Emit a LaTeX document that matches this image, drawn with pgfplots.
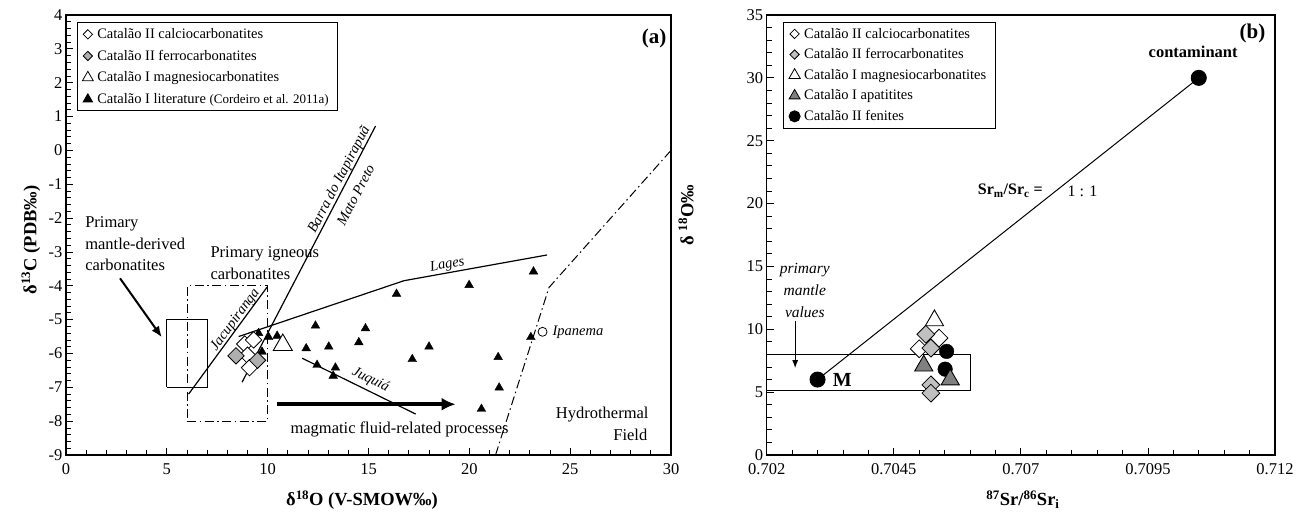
\documentclass[border=0pt]{standalone}
\usepackage{pgfplots}
\pgfplotsset{compat=1.18}
\usepackage{fontspec}
\setmainfont{Liberation Serif}
\usetikzlibrary{arrows.meta}
\definecolor{ltgray}{RGB}{192,192,192}
\definecolor{agray}{RGB}{175,175,175}
\definecolor{dkgray}{RGB}{128,128,128}
\newcommand{\fs}[1]{\fontsize{#1}{#1}\selectfont}
\tikzset{dashdot/.style={dash pattern=on 9pt off 3.5pt on 1.5pt off 3.5pt}}
\pgfplotsset{
  myaxis/.style={
    scale only axis,
    axis line style={line width=1.1pt},
    tick align=inside, tick pos=left,
    major tick length=7pt, minor tick length=5pt,
    every tick/.style={black, line width=0.8pt},
    tick label style={font=\fs{16.5}},
    /pgf/number format/assume math mode=true,
    xticklabel style={yshift=-5pt},
    legend cell align=left,
  }
}
\begin{document}
\begin{tikzpicture}
\path[use as bounding box] (0pt,0pt) rectangle (1306pt,-520pt);

% ---------------- panel (a) ----------------
\begin{axis}[myaxis, at={(66pt,-455pt)}, anchor=south west,
  width=605pt, height=440pt,
  xmin=0, xmax=30, ymin=-9, ymax=4,
  xtick={0,5,...,30}, minor x tick num=4,
  ytick={-9,-8,...,4}, minor y tick num=4,
  legend style={at={(0.018,0.984)}, anchor=north west, draw=black, line width=1pt,
    font=\fs{14.5}, row sep=6pt, inner xsep=5pt, inner ysep=4pt,
    nodes={inner xsep=4pt}}]
\addlegendimage{only marks, mark=square*, mark size=3.3pt, mark options={rotate=45, fill=white, draw=black, line width=0.8pt}}
\addlegendentry{Catalão II calciocarbonatites}
\addlegendimage{only marks, mark=square*, mark size=3.3pt, mark options={rotate=45, fill=agray, draw=black, line width=0.8pt}}
\addlegendentry{Catalão II ferrocarbonatites}
\addlegendimage{only marks, mark=triangle*, mark size=6.3pt, mark options={fill=white, draw=black, line width=0.8pt}}
\addlegendentry{Catalão I magnesiocarbonatites}
\addlegendimage{only marks, mark=triangle*, mark size=5.2pt, mark options={fill=black, draw=black}}
\addlegendentry{Catalão I literature {\fs{13}(Cordeiro et al. 2011a)}}

% boxes
\addplot[forget plot, black, line width=1pt] coordinates {(5,-7) (7,-7) (7,-5) (5,-5) (5,-7)};
\addplot[forget plot, black, line width=1pt, dashdot] coordinates {(6,-8) (10,-8) (10,-4) (6,-4) (6,-8)};
% trend lines
\addplot[forget plot, black, line width=1.2pt] coordinates {(6.08,-7.2) (9.97,-4.04)};
\addplot[forget plot, black, line width=1.2pt] coordinates {(8.73,-6.85) (15.35,0.72)};
\addplot[forget plot, black, line width=1.2pt] coordinates {(8.56,-5.5) (16.76,-3.85) (23.85,-3.09)};
\addplot[forget plot, black, line width=1.2pt] coordinates {(11.71,-6.14) (17.34,-7.79)};
\addplot[forget plot, black, line width=1pt, dashdot] coordinates {(21.3,-9) (23.95,-4.05) (30,0)};
% arrows
\addplot[forget plot, black, line width=2pt, -{Latex[length=11pt,width=9pt]}] coordinates {(2.68,-3.78) (4.75,-5.52)};
\addplot[forget plot, black, line width=4pt, -{Latex[length=14pt,width=13pt]}] coordinates {(10.47,-7.5) (19.32,-7.5)};

% literature triangles
\addplot[forget plot, only marks, mark=triangle*, mark size=5pt, mark options={fill=black, draw=black}] coordinates {
(9.55,-5.40) (10.05,-5.52) (10.47,-5.48) (9.72,-5.95) (12.37,-5.18) (14.85,-5.26)
(11.91,-5.85) (13.03,-5.80) (14.52,-5.67) (16.39,-4.24) (19.99,-3.98) (23.18,-3.58)
(18.0,-5.80) (17.17,-6.17) (12.45,-6.34) (13.36,-6.42) (13.25,-6.66) (21.43,-6.11)
(21.48,-7.01) (20.6,-7.64) (23.05,-5.52)};
% magnesio big triangle
\addplot[forget plot, only marks, mark=triangle*, mark size=11pt, mark options={fill=white, draw=black, line width=0.9pt}] coordinates {(10.75,-5.75)};
% calcio diamonds
\addplot[forget plot, only marks, mark=square*, mark size=5.8pt, mark options={rotate=45, fill=white, draw=black, line width=0.8pt}] coordinates {
(8.86,-5.72) (9.3,-5.6) (9.0,-6.05) (9.1,-6.42)};
% ferro diamonds
\addplot[forget plot, only marks, mark=square*, mark size=5.8pt, mark options={rotate=45, fill=agray, draw=black, line width=0.8pt}] coordinates {
(8.43,-6.07) (9.5,-6.2)};
% Ipanema
\addplot[forget plot, only marks, mark=*, mark size=4.5pt, mark options={fill=white, draw=black, line width=0.8pt}] coordinates {(23.63,-5.36)};

% texts
\node[anchor=base west, font=\fs{16.5}] at (axis cs:0.78,-2.29) {Primary};
\node[anchor=base west, font=\fs{16.5}] at (axis cs:0.78,-2.93) {mantle-derived};
\node[anchor=base west, font=\fs{16.5}] at (axis cs:0.78,-3.56) {carbonatites};
\node[anchor=base west, font=\fs{16.5}] at (axis cs:6.99,-3.16) {Primary igneous};
\node[anchor=base west, font=\fs{16.5}] at (axis cs:6.99,-3.80) {carbonatites};
\node[anchor=base west, font=\fs{16.5}] at (axis cs:10.96,-8.35) {magmatic fluid-related processes};
\node[anchor=base east, font=\fs{16.5}] at (axis cs:29.06,-7.91) {Hydrothermal};
\node[anchor=base east, font=\fs{16.5}] at (axis cs:29.0,-8.56) {Field};
\node[rotate=53.7, font=\itshape\fs{14.5}] at (axis cs:8.4,-5.01) {Jacupiranga};
\node[rotate=62.5, font=\itshape\fs{14.5}] at (axis cs:13.56,-0.87) {Barra do Itapirapuã};
\node[rotate=62.5, font=\itshape\fs{14.5}] at (axis cs:14.36,-1.32) {Mato Preto};
\node[rotate=10.2, font=\itshape\fs{14.5}] at (axis cs:18.91,-3.39) {Lages};
\node[rotate=-26.2, font=\itshape\fs{14.5}] at (axis cs:15.1,-6.78) {Juquiá};
\node[anchor=west, font=\itshape\fs{14.5}] at (axis cs:23.95,-5.36) {Ipanema};
\node[anchor=east, font=\bfseries\fs{21}] at (axis cs:29.95,3.3) {(a)};
\end{axis}

% ---------------- panel (b) ----------------
\begin{axis}[myaxis, at={(766.7pt,-455pt)}, anchor=south west,
  width=508.3pt, height=440pt,
  xmin=0.702, xmax=0.712, ymin=0, ymax=35,
  xtick={0.702,0.7045,0.707,0.7095,0.712},
  xticklabels={0.702,0.7045,0.707,0.7095,0.712},
  minor x tick num=4,
  ytick={0,5,...,35}, minor y tick num=4,
  legend style={at={(0.033,0.985)}, anchor=north west, draw=black, line width=1pt,
    font=\fs{14.5}, row sep=5pt, inner xsep=5pt, inner ysep=4pt,
    nodes={inner xsep=4pt}}]
\addlegendimage{only marks, mark=square*, mark size=3.3pt, mark options={rotate=45, fill=white, draw=black, line width=0.8pt}}
\addlegendentry{Catalão II calciocarbonatites}
\addlegendimage{only marks, mark=square*, mark size=3.3pt, mark options={rotate=45, fill=ltgray, draw=black, line width=0.8pt}}
\addlegendentry{Catalão II ferrocarbonatites}
\addlegendimage{only marks, mark=triangle*, mark size=6.5pt, mark options={fill=white, draw=black, line width=0.8pt}}
\addlegendentry{Catalão I magnesiocarbonatites}
\addlegendimage{only marks, mark=triangle*, mark size=6.3pt, mark options={fill=dkgray, draw=black, line width=0.8pt}}
\addlegendentry{Catalão I apatitites}
\addlegendimage{only marks, mark=*, mark size=5.5pt, mark options={fill=black, draw=black}}
\addlegendentry{Catalão II fenites}

\addplot[forget plot, black, line width=1pt] coordinates {(0.702,5.1) (0.706,5.1) (0.706,8.0) (0.702,8.0)};
\addplot[forget plot, black, line width=1pt, mark=*, mark size=7.5pt, mark options={fill=black}] coordinates {(0.703,6) (0.7105,30)};
\addplot[forget plot, black, line width=1pt, -{Latex[length=8pt,width=6pt]}] coordinates {(0.70256,10.63) (0.70256,6.91)};

\addplot[forget plot, only marks, mark=triangle*, mark size=10.5pt, mark options={fill=white, draw=black, line width=0.9pt}] coordinates {(0.70530,10.7)};
\addplot[forget plot, only marks, mark=square*, mark size=6.3pt, mark options={rotate=45, fill=white, draw=black, line width=0.8pt}] coordinates {(0.70539,9.30) (0.70500,8.45)};
\addplot[forget plot, only marks, mark=square*, mark size=6.3pt, mark options={rotate=45, fill=ltgray, draw=black, line width=0.8pt}] coordinates {(0.70513,9.6) (0.70523,8.5) (0.70523,5.58) (0.70523,4.92)};
\addplot[forget plot, only marks, mark=*, mark size=7.3pt, mark options={fill=black, draw=black}] coordinates {(0.70554,8.24) (0.70551,6.83)};
\addplot[forget plot, only marks, mark=triangle*, mark size=10.5pt, mark options={fill=dkgray, draw=black, line width=0.9pt}] coordinates {(0.70509,7.1) (0.70561,6.0)};

\node[anchor=east, font=\bfseries\fs{21}] at (axis cs:0.71188,33.5) {(b)};
\node[font=\bfseries\fs{16.5}] at (axis cs:0.71039,32.03) {contaminant};
\node[anchor=east, font=\bfseries\fs{16}] at (axis cs:0.70750,21.0) {Sr\textsubscript{m}/Sr\textsubscript{c} =};
\node[anchor=west, font=\fs{16}] at (axis cs:0.70785,21.0) {1 : 1};
\node[anchor=base, font=\itshape\fs{15.5}] at (axis cs:0.70275,14.43) {primary};
\node[anchor=base, font=\itshape\fs{15.5}] at (axis cs:0.70275,12.68) {mantle};
\node[anchor=base, font=\itshape\fs{15.5}] at (axis cs:0.70275,10.93) {values};
\node[anchor=west, font=\bfseries\fs{20}] at (axis cs:0.70323,5.98) {M};
\end{axis}

% axis labels
\node[font=\bfseries\fs{18.5}] at (362pt,-500pt) {δ\textsuperscript{18}O (V-SMOW‰)};
\node[rotate=90, font=\bfseries\fs{18.5}] at (31pt,-240pt) {δ\textsuperscript{13}C (PDB‰)};
\node[font=\bfseries\fs{18.5}] at (1023pt,-500pt) {\textsuperscript{87}Sr/\textsuperscript{86}Sr\textsubscript{i}};
\node[rotate=90, font=\bfseries\fs{18.5}] at (686pt,-215pt) {δ \textsuperscript{18}O‰};
\end{tikzpicture}
\end{document}
